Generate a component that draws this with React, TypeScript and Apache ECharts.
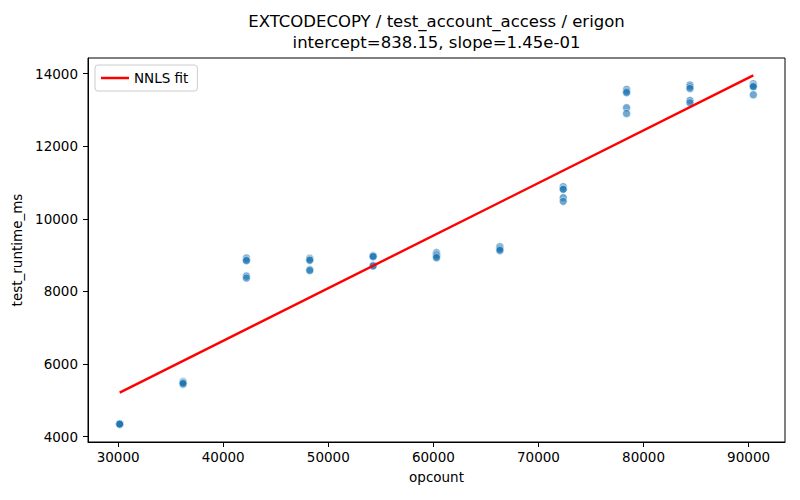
import React, { useEffect, useRef } from "react";
import * as echarts from "echarts";

const opcounts = [30150, 36180, 42210, 48240, 54270, 60300, 66330, 72360, 78390, 84420, 90450];
const runtimes = [
  [4340, 4345, 4350, 4338, 4342],
  [5515, 5490, 5440, 5450, 5470],
  [8920, 8870, 8848, 8424, 8369],
  [8912, 8880, 8857, 8600, 8575],
  [8986, 8970, 8960, 8720, 8700],
  [9070, 9030, 9000, 8960, 8930],
  [9240, 9220, 9190, 9160, 9130],
  [10887, 10830, 10813, 10584, 10482],
  [13567, 13510, 13480, 13063, 12906],
  [13690, 13640, 13595, 13264, 13201],
  [13725, 13680, 13659, 13640, 13421],
];
const intercept = 838.15;
const slope = 0.145;
const xTicks = [30000, 40000, 50000, 60000, 70000, 80000, 90000];
const yTicks = [4000, 6000, 8000, 10000, 12000, 14000];
const titleLine1 = "EXTCODECOPY / test_account_access / erigon";
const titleLine2 = "intercept=838.15, slope=1.45e-01";

const FONT = "DejaVu Sans";

export default function App() {
  const ref = useRef<HTMLDivElement>(null);
  useEffect(() => {
    if (!ref.current) return;
    const chart = echarts.init(ref.current, null, { renderer: "svg" });
    const points: number[][] = [];
    opcounts.forEach((x, i) => runtimes[i].forEach((y) => points.push([x, y])));
    const xMin = opcounts[0];
    const xMax = opcounts[opcounts.length - 1];
    const fit = [
      [xMin, intercept + slope * xMin],
      [xMax, intercept + slope * xMax],
    ];
    const axisCommon = {
      type: "value" as const,
      axisLine: { show: true, onZero: false, lineStyle: { color: "#000", width: 1 } },
      axisTick: { show: true, length: 5, lineStyle: { color: "#000", width: 1 } },
      splitLine: { show: false },
    };
    const plain = (v: number) => String(Math.round(v));
    chart.setOption({
      animation: false,
      backgroundColor: "#fff",
      textStyle: { fontFamily: FONT },
      grid: {
        left: 88,
        right: 15,
        top: 58,
        bottom: 58,
        show: true,
        borderColor: "#000",
        borderWidth: 1,
        backgroundColor: "transparent",
      },
      graphic: [
        {
          type: "text",
          x: 436.5,
          y: 13,
          style: { text: titleLine1, align: "center", verticalAlign: "top", fontFamily: FONT, fontSize: 16.5, fill: "#000" },
        },
        {
          type: "text",
          x: 436.5,
          y: 34,
          style: { text: titleLine2, align: "center", verticalAlign: "top", fontFamily: FONT, fontSize: 16.5, fill: "#000" },
        },
      ],
      legend: {
        left: 95,
        top: 65,
        data: [{ name: "NNLS fit", icon: "rect" }],
        itemWidth: 28,
        itemHeight: 2.5,
        itemGap: 8,
        padding: [6, 9, 6, 6],
        borderColor: "#ccc",
        borderWidth: 1,
        borderRadius: 3,
        backgroundColor: "rgba(255,255,255,0.8)",
        textStyle: { fontFamily: FONT, fontSize: 13.5, color: "#000" },
      },
      xAxis: {
        ...axisCommon,
        min: 27135,
        max: 93465,
        name: "opcount",
        nameLocation: "middle",
        nameGap: 28,
        nameTextStyle: { fontFamily: FONT, fontSize: 13.5, color: "#000" },
        axisTick: { ...axisCommon.axisTick, customValues: xTicks },
        axisLabel: { customValues: xTicks, formatter: plain, margin: 8, fontFamily: FONT, fontSize: 13.5, color: "#000" },
      },
      yAxis: {
        ...axisCommon,
        min: 3849,
        max: 14434,
        name: "test_runtime_ms",
        nameLocation: "middle",
        nameGap: 48,
        nameTextStyle: { fontFamily: FONT, fontSize: 13.5, color: "#000" },
        axisTick: { ...axisCommon.axisTick, customValues: yTicks },
        axisLabel: { customValues: yTicks, formatter: plain, margin: 10, fontFamily: FONT, fontSize: 13.5, color: "#000" },
      },
      series: [
        {
          type: "scatter",
          name: "data",
          data: points,
          symbolSize: 8,
          itemStyle: { color: "rgba(31,119,180,0.8)", borderColor: "rgba(255,255,255,0.8)", borderWidth: 0.8 },
          z: 2,
        },
        {
          type: "line",
          name: "NNLS fit",
          data: fit,
          showSymbol: false,
          symbol: "none",
          lineStyle: { color: "#ff0000", width: 2.4 },
          itemStyle: { color: "#ff0000" },
          z: 3,
        },
      ],
    });
    return () => chart.dispose();
  }, []);
  return <div ref={ref} style={{ width: 800, height: 500, position: "absolute", left: 0, top: 0 }} />;
}
